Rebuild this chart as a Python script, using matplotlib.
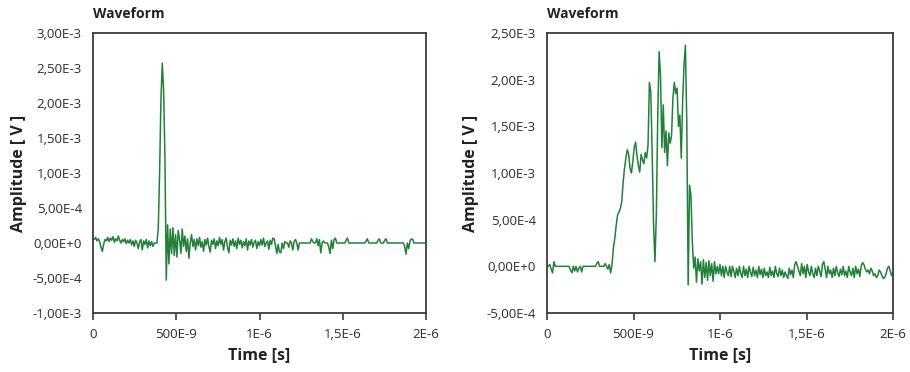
import numpy as np
import matplotlib
matplotlib.use("Agg")
import matplotlib.pyplot as plt

plt.rcParams['font.family'] = ['Open Sans', 'DejaVu Sans']

# sample step of the recorder: 8 ns
dt_ns = 8

# first channel, amplitude in mV
left_mv = [
    # before the pulse
    0.06, 0.05, 0.08, 0.03, 0.06, 0.02, -0.06, -0.12, -0.02, 0.05,
    0.03, 0.08, 0.02, 0.07, 0.04, 0.09, 0.01, 0.06, 0.03, 0.10,
    0.04, 0.00, 0.05, 0.02, 0.06, -0.01, 0.04, 0.00, 0.05, -0.03,
    0.03, -0.05, 0.04, 0.00, -0.08, 0.02, 0.05, -0.10, 0.03, -0.02,
    0.05, -0.07, 0.03, -0.04, 0.02, -0.05, 0.00, 0.00, 0.00,
    # pulse
    0.21, 1.00, 2.04, 2.57, 2.19, 1.23, -0.53, 0.26,
    # ringing
    -0.30, 0.20, -0.15, 0.22, -0.18, 0.12, -0.20, 0.18, 0.05, -0.15,
    0.20, -0.05, 0.10, -0.12, 0.06, -0.22, 0.00, 0.12, -0.05,
    # noise
    0.05, -0.10, 0.06, -0.04, 0.08, -0.06, 0.02, -0.12, 0.05, -0.03,
    0.07, -0.05, -0.13, 0.04, -0.02, 0.06, -0.08, 0.03, -0.04, 0.08,
    -0.02, 0.05, -0.10, 0.02, 0.07, -0.06, -0.14, 0.04, -0.03, 0.06,
    -0.05, 0.03, -0.08, 0.07, -0.02, 0.04, -0.07, 0.02, -0.04, 0.06,
    -0.10, 0.03, -0.03, 0.05, -0.06, 0.01, 0.04, -0.08, 0.02, -0.04,
    0.05, -0.03, 0.07, -0.05, 0.00, 0.03, -0.09, 0.04, -0.02, 0.07,
    0.06, -0.04, -0.15, -0.02, -0.13,
    # tail
    -0.14, 0.00, -0.08, 0.02, 0.00, 0.00, -0.06, 0.03, 0.00, -0.10,
    0.02, 0.05, 0.00, -0.10, 0.00, 0.00, 0.00, 0.00, 0.00, 0.00,
    0.00, 0.00, 0.00, 0.06, 0.02, 0.00, 0.00, 0.06, -0.04, 0.05,
    -0.14, 0.00, 0.03, 0.00, 0.00, 0.00, -0.06, -0.15, 0.04, -0.08,
    0.05, 0.07, 0.00, 0.00, 0.00, 0.00, 0.00, 0.00, 0.00, 0.04,
    0.07, 0.00, 0.00, 0.00, 0.00, 0.00, 0.00, 0.00, 0.00, 0.00,
    0.00, 0.00, 0.00, 0.00, 0.03, 0.06, 0.00, 0.00, 0.00, 0.00,
    0.00, 0.00, 0.00, 0.04, 0.06, 0.00, 0.00, 0.00, 0.04, 0.06,
    0.00, 0.00, 0.00, 0.00, 0.00, 0.00, 0.00, 0.00, 0.00, 0.00,
    0.00, 0.00, 0.00, -0.05, -0.16, 0.00, -0.08, 0.03, 0.06, 0.05,
    0.00, 0.00, 0.00, 0.00, 0.00, 0.00, 0.00, 0.00, 0.00, 0.00,
]

# second channel, amplitude in mV
right_mv = [
    # before the burst
    0.00, 0.00, 0.02, -0.03, -0.07, 0.05, 0.00, 0.00, 0.00, 0.00,
    0.00, 0.00, 0.00, 0.00, 0.00, 0.00, 0.00, -0.04, -0.07, 0.00,
    -0.05, 0.00, -0.06, -0.02, 0.00, -0.06, 0.00, 0.00, 0.00, 0.00,
    0.00, 0.00, 0.00, 0.00, 0.00, 0.00, 0.03, 0.05, 0.00, 0.00,
    0.00, 0.00, 0.03, 0.00, -0.03, 0.02, -0.07,
    # rise
    0.02, 0.20, 0.30, 0.44, 0.55, 0.58, 0.62, 0.69, 0.90, 1.05,
    1.16, 1.25, 1.20, 1.05, 1.00, 1.12, 1.27, 1.33, 1.19, 1.08,
    1.01, 1.20, 1.14, 1.10, 1.22, 1.16,
    # burst
    1.30, 1.97, 1.87, 1.20, 0.44, 0.05, 0.55, 1.59, 2.30, 2.05,
    1.27, 1.73, 1.22, 1.45, 1.08, 1.43, 1.32, 1.40, 1.81, 1.97,
    1.85, 1.91, 1.50, 1.62, 1.16, 1.77, 2.16, 2.37, 1.54, -0.20,
    0.87, 0.76, 0.26, -0.02, 0.10, -0.17, 0.08, -0.05, 0.05, -0.19,
    0.07, -0.12, 0.04, -0.15, 0.06, -0.10, 0.03, -0.16, 0.05, -0.08,
    0.00,
    # tail
    -0.08, 0.02, -0.10, 0.00, -0.12, 0.00, -0.06, -0.10, 0.00, -0.11,
    0.00, -0.05, -0.12, -0.02, -0.10, 0.00, -0.08, -0.12, 0.00, -0.10,
    -0.03, -0.12, 0.00, -0.06, -0.11, -0.01, -0.10, -0.04, -0.12, 0.00,
    -0.09, -0.03, -0.12, -0.02, -0.10, -0.06, -0.12, -0.01, -0.10, -0.05,
    -0.12, 0.00, -0.08, -0.11, -0.02, -0.10, -0.04, -0.12, -0.06, -0.10,
    -0.13, -0.02, -0.09, -0.04, -0.12, 0.02, 0.05, 0.00, -0.05, -0.10,
    0.03, -0.08, 0.00, -0.12, 0.02, -0.06, -0.10, 0.00, -0.08, -0.12,
    -0.02, -0.10, 0.00, -0.05, -0.11, 0.02, 0.05, -0.03, -0.12, 0.00,
    -0.08, -0.04, -0.12, -0.02, -0.10, 0.00, -0.07, -0.11, -0.03, -0.09,
    0.00, -0.10, -0.05, -0.12, 0.00, -0.06, -0.10, -0.02, -0.12, 0.00,
    -0.08, -0.03, -0.11, 0.00, 0.04, 0.02, -0.03, -0.06, -0.04, -0.08,
    -0.02, -0.05, -0.10, -0.08, -0.12, -0.10, -0.04, -0.06, -0.10, -0.13,
    -0.12, -0.08, -0.02, 0.00, -0.05, -0.10, -0.06,
]

x_ticks = [0, 500e-9, 1e-6, 1.5e-6, 2e-6]
x_labels = ["0", "500E-9", "1E-6", "1,5E-6", "2E-6"]

left_yticks = [-1e-3, -5e-4, 0, 5e-4, 1e-3, 1.5e-3, 2e-3, 2.5e-3, 3e-3]
left_ylabels = ["-1,00E-3", "-5,00E-4", "0,00E+0", "5,00E-4", "1,00E-3",
                "1,50E-3", "2,00E-3", "2,50E-3", "3,00E-3"]
right_yticks = [-5e-4, 0, 5e-4, 1e-3, 1.5e-3, 2e-3, 2.5e-3]
right_ylabels = ["-5,00E-4", "0,00E+0", "5,00E-4", "1,00E-3",
                 "1,50E-3", "2,00E-3", "2,50E-3"]

W, H = 910, 372
fig = plt.figure(figsize=(W / 100, H / 100), dpi=100)

line_col = '#23803a'
frame_col = '#3c3c3c'
text_col = '#2b2b33'


def draw_panel(rect, values_mv, yticks, ylabels, ylab_x):
    x0, y0, w, h = rect
    ax = fig.add_axes([x0 / W, 1 - (y0 + h) / H, w / W, h / H])
    t = np.arange(len(values_mv)) * dt_ns * 1e-9
    v = np.array(values_mv) * 1e-3
    ax.plot(t, v, color=line_col, lw=1.1)
    ax.set_xlim(0, 2e-6)
    ax.set_ylim(yticks[0], yticks[-1])
    ax.set_xticks(x_ticks)
    ax.set_xticklabels(x_labels)
    ax.set_yticks(yticks)
    ax.set_yticklabels(ylabels)
    ax.tick_params(axis='x', length=5, width=1.2, color=frame_col, pad=6,
                   labelsize=9.5, labelcolor=text_col)
    ax.tick_params(axis='y', length=0, pad=8, labelsize=9.5, labelcolor=text_col)
    for sp in ax.spines.values():
        sp.set_color(frame_col)
        sp.set_linewidth(1.3)
    ax.set_xlabel("Time [s]", fontsize=11.5, fontweight='bold', color='#222222', labelpad=4)
    fig.text(ylab_x / W, 1 - 173 / H, "Amplitude [ V ]", rotation=90, ha='center',
             va='center', fontsize=11.5, fontweight='bold', color='#222222')
    fig.text(x0 / W, 1 - 14 / H, "Waveform", ha='left', va='center',
             fontsize=10, fontweight='bold', color='#222222')
    return ax


draw_panel((93, 33, 333, 280), left_mv, left_yticks, left_ylabels, 19)
draw_panel((547, 33, 346, 280), right_mv, right_yticks, right_ylabels, 471)

fig.savefig("out.png", dpi=100)
